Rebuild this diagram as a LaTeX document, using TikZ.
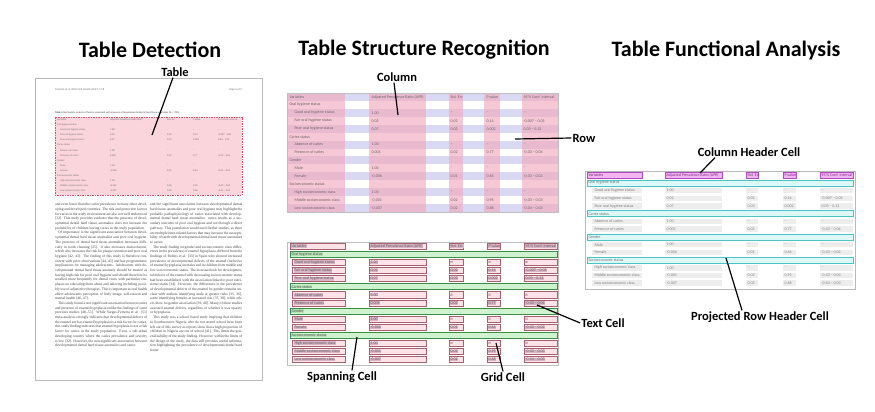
\documentclass[tikz,border=0pt]{standalone}
\usepackage{fontspec}
\setmainfont{Carlito}
\newfontfamily\bodyserif{Liberation Serif}
\definecolor{lav}{HTML}{D9D9F3}
\definecolor{colpink}{HTML}{F2A9BE}
\definecolor{gridfill}{HTML}{FCE3E7}
\definecolor{gridline}{HTML}{A8606E}
\definecolor{textcell}{HTML}{D9B5C8}
\definecolor{spanfill}{HTML}{CFF2CF}
\definecolor{spanline}{HTML}{3C8C4C}
\definecolor{spantext}{HTML}{B5E2B5}
\definecolor{hdrfill}{HTML}{F3B6F3}
\definecolor{hdrline}{HTML}{B048C0}
\definecolor{prhfill}{HTML}{DDF8F8}
\definecolor{prhline}{HTML}{4CC4C4}
\definecolor{datagray}{HTML}{EDEDED}
\definecolor{pagepink}{HTML}{FAD5DC}
\definecolor{pagedash}{HTML}{E0506A}
\def\datarows{2/Good oral hygiene status/1.00/–/–/–,3/Fair oral hygiene status/0.02/0.02/0.14/-0.007 – 0.05,4/Poor oral hygiene status/0.07/0.03/0.002/0.03 – 0.12,6/Absence of caries/1.00/–/–/–,7/Presence of caries/0.005/0.02/0.77/-0.03 – 0.04,9/Male/1.00/–/–/–,10/Female/-0.006/0.01/0.64/-0.03 – 0.02,12/High socioeconomic class/1.00/–/–/–,13/Middle socioeconomic class/-0.001/0.02/0.95/-0.03 – 0.03,14/Low socioeconomic class/-0.007/0.02/0.68/-0.04 – 0.03}
\def\secrows{1/Oral hygiene status,5/Caries status,8/Gender,11/Socioeconomic status}
\begin{document}
\begin{tikzpicture}[x=1pt,y=-1pt,
  title/.style={font=\bfseries\fontsize{22}{24}\selectfont, inner sep=0pt},
  lbl/.style={font=\bfseries\fontsize{12.5}{14}\selectfont, inner sep=1pt},
  ptr/.style={line width=1.2pt, black},
  mini/.style={font=\fontsize{2.5}{3}\selectfont, anchor=west, inner sep=0pt, text=black!55},
  tt/.style={font=\fontsize{4}{4.5}\selectfont, anchor=west, inner sep=0.3pt, text=black!60},
  tcell/.style={tt, fill=textcell, text=black!65},
  gridbox/.style={draw=gridline, fill=gridfill, line width=0.45pt},
  spanbox/.style={draw=spanline, fill=spanfill, line width=0.7pt},
  hdrbox/.style={draw=hdrline, fill=hdrfill, line width=0.5pt},
  prhbox/.style={draw=prhline, fill=prhfill, line width=0.8pt},
  graybox/.style={fill=datagray},
  body/.style={anchor=north west, inner sep=0pt, text width=92pt, align=justify,
    font=\bodyserif\fontsize{3.7}{4.7}\selectfont, text=black!75}
]
\useasboundingbox (0,0) rectangle (875,412);
\fill[white] (0,0) rectangle (875,412);

% ---------------- titles
\node[title] (t1) at (150,50) {Table Detection};
\node[title] (t2) at (424,50) {Table Structure Recognition};
\node[title] (t3) at (726,50) {Table Functional Analysis};

% ================= Panel A: page
\draw[gray!55, line width=0.9pt, fill=white] (35,78) rectangle (262,380);
\node[mini, font=\fontsize{2.8}{3}\selectfont] (hd1) at (55,90) {Popoola et al. BMC Oral Health (2017) 17:8};
\node[mini, anchor=east, font=\fontsize{2.8}{3}\selectfont] (hd2) at (242,90) {Page 6 of 9};
\node[mini, text=black!75] (cap) at (55,113) {\textbf{Table 4} Multivariate analysis of factors associated with presence of developmental dental hard tissue anomalies (N = 1703)};
\fill[pagepink] (55,117) rectangle (242,195);
\draw[pagedash, dash pattern=on 1.5pt off 1pt, line width=0.7pt] (55,117) rectangle (242,195);
\node[mini] (A-0-v) at (57,119.6) {Variables};
\node[mini] (A-0-a) at (110,119.6) {Adjusted Prevalence Ratio (APR)};
\node[mini] (A-0-b) at (167,119.6) {Std. Err.};
\node[mini] (A-0-c) at (193,119.6) {P value};
\node[mini] (A-0-d) at (218,119.6) {95 \% Conf. Interval};
\foreach \i/\v in \secrows {
  \node[mini] (A-\i-v) at (57,{119.6+\i*5.1}) {\v};
}
\foreach \i/\v/\a/\b/\c/\d in \datarows {
  \pgfmathsetmacro\yy{119.6+\i*5.1}
  \node[mini] (A-\i-v) at (60,\yy) {\v};
  \node[mini] (A-\i-a) at (110,\yy) {\a};
  \node[mini] (A-\i-b) at (167,\yy) {\b};
  \node[mini] (A-\i-c) at (193,\yy) {\c};
  \node[mini] (A-\i-d) at (218,\yy) {\d};
}
\node[body] (bodyL) at (55,203) {and even lower than the caries prevalence in many other developing and developed countries. The risk and protective factors for caries in the study environment are also not well understood [32]. This study provides evidence that the presence of developmental dental hard tissue anomalies does not increase the probability of children having caries in the study population.\par
\hspace*{3pt}Of importance is the significant association between developmental dental hard tissue anomalies and poor oral hygiene. The presence of dental hard tissue anomalies increases difficulty in tooth cleaning [25]. It also increases malocclusion, which also increases the risk for plaque retention and poor oral hygiene [42, 43]. The finding of this study is therefore consistent with prior observations [44, 45] and has programmatic implications for managing adolescents. Adolescents with developmental dental hard tissue anomaly should be treated as having high risk for poor oral hygiene and should therefore be recalled more frequently for dental visits with particular emphasis on educating them about and tailoring including possibly use of adjunctive therapies. This is important as oral health affect adolescents perception of body image, self-esteem and mental health [46, 47].\par
\hspace*{3pt}This study found a non significant association between caries and presence of enamel hypoplasia unlike the findings of some previous studies [48--51]. While Vargas-Ferreira et al. [51] meta-analysis strongly indicates that developmental defects of the enamel such as enamel hypoplasia is a risk factor for caries, this study finding indicates that enamel hypoplasia is not a risk factor for caries in the study population. Even, a sub-urban developing country where the caries prevalence and severity is low [32]. However, the non-significant association between developmental dental hard tissue anomalies and caries};
\node[body] (bodyR) at (150,203) {and the significant association between developmental dental hard tissue anomalies and poor oral hygiene may highlight the probable pathophysiology of caries associated with developmental dental hard tissue anomalies: caries results as a secondary outcome of poor oral hygiene and not through a direct pathway. This postulation would need further studies, as there are multiple inter-related factors that may increase the susceptibility of teeth with developmental dental hard tissue anomalies to caries.\par
\hspace*{3pt}The study finding on gender and socioeconomic class differences in the prevalence of enamel hypoplasia, differed from the findings of Robles et al. [33] in Spain who showed increased prevalence of developmental defects of the enamel (inclusive of enamel hypoplasia) in males and in children from middle and low socioeconomic status. The increased risk for developmental defects of the enamel with decreasing socioeconomic status had been established, with the association linked to poor nutritional status [34]. However, the differences in the prevalence of developmental defects of the enamel by gender remains unclear with authors identifying male at greater risks [35, 36], some identifying females at increased risk [37, 38], while others show no gender association [39, 40]. Many of these studies assessed enamel defects, regardless of whether it was opacity or hypoplasia.\par
\hspace*{3pt}This study was a school based study implying that children in Southwestern Nigeria who do not attend school have been left out of this survey as reports show that a high proportion of children in Nigeria are out of school [41]. This limits the generalizability of the study finding. However, within the limits of the design of the study, the data still provides useful information highlighting the prevalence of developmental dental hard tissue};

% ================= Panel B: columns and rows
\fill[white] (287,93) rectangle (558,212);
\foreach \i in {0,2,...,14} \fill[lav] (287,{93+\i*7.93}) rectangle (558,{93+(\i+1)*7.93});
\foreach \l/\r in {287/345,369/426,449/463,484/500,522/558} \fill[colpink,opacity=.65] (\l,93) rectangle (\r,212);
\draw[gray!50, line width=0.7pt] (287,93) rectangle (558,212);
\node[tt] (B-0-v) at (289,97) {Variables};
\node[tt] (B-0-a) at (371,97) {Adjusted Prevalence Ratio (APR)};
\node[tt] (B-0-b) at (450,97) {Std. Err.};
\node[tt] (B-0-c) at (486,97) {P value};
\node[tt] (B-0-d) at (523,97) {95 \% Conf. Interval};
\foreach \i/\v in \secrows {
  \node[tt] (B-\i-v) at (289,{97+\i*7.93}) {\v};
}
\foreach \i/\v/\a/\b/\c/\d in \datarows {
  \pgfmathsetmacro\yy{97+\i*7.93}
  \node[tt] (B-\i-v) at (294,\yy) {\v};
  \node[tt] (B-\i-a) at (371,\yy) {\a};
  \node[tt] (B-\i-b) at (450,\yy) {\b};
  \node[tt] (B-\i-c) at (486,\yy) {\c};
  \node[tt] (B-\i-d) at (523,\yy) {\d};
}

% ================= Panel C: cells
\draw[gray!50, line width=0.7pt, fill=white] (287,242) rectangle (558,365);
\foreach \l/\r in {290/345,369/426,449/463,487/500,524/557}
  \draw[gridbox] (\l,243.1) rectangle (\r,249.3);
\node[tcell] (C-0-v) at (291,246.2) {Variables};
\node[tcell] (C-0-a) at (370,246.2) {Adjusted Prevalence Ratio (APR)};
\node[tcell] (C-0-b) at (450,246.2) {Std. Err.};
\node[tcell] (C-0-c) at (488,246.2) {P value};
\node[tcell] (C-0-d) at (525,246.2) {95 \% Conf. Interval};
\foreach \i/\v in \secrows {
  \pgfmathsetmacro\yy{246.2+\i*8.1}
  \draw[spanbox] (290,\yy-3.1) rectangle (557,\yy+3.1);
  \node[tt, fill=spantext, text=black!65] (C-\i-v) at (291,\yy) {\v};
}
\foreach \i/\v/\a/\b/\c/\d in \datarows {
  \pgfmathsetmacro\yy{246.2+\i*8.1}
  \draw[gridbox] (292,\yy-3.1) rectangle (345,\yy+3.1);
  \foreach \l/\r in {369/426,449/463,487/500,524/557}
    \draw[gridbox] (\l,\yy-3.1) rectangle (\r,\yy+3.1);
  \node[tcell] (C-\i-v) at (294,\yy) {\v};
  \node[tcell] (C-\i-a) at (370,\yy) {\a};
  \node[tcell] (C-\i-b) at (450,\yy) {\b};
  \node[tcell] (C-\i-c) at (488,\yy) {\c};
  \node[tcell] (C-\i-d) at (525,\yy) {\d};
}

% ================= Panel D: functional analysis
\draw[gray!55, line width=0.8pt, fill=white] (585,171) rectangle (855,289);
\foreach \l/\r in {587/642,665/722,746/758,783/796,820/853}
  \draw[hdrbox] (\l,172.2) rectangle (\r,178.2);
\node[tt, text=hdrline!70!black] (D-0-v) at (588,175.2) {Variables};
\node[tt, text=hdrline!70!black] (D-0-a) at (666,175.2) {Adjusted Prevalence Ratio (APR)};
\node[tt, text=hdrline!70!black] (D-0-b) at (747,175.2) {Std. Err.};
\node[tt, text=hdrline!70!black] (D-0-c) at (784,175.2) {P value};
\node[tt, text=hdrline!70!black] (D-0-d) at (821,175.2) {95 \% Conf. Interval};
\foreach \i/\v in \secrows {
  \pgfmathsetmacro\yy{175.2+\i*7.72}
  \draw[prhbox] (587,\yy-3) rectangle (853,\yy+3);
  \node[tt, text=black!55] (D-\i-v) at (588,\yy) {\v};
}
\foreach \i/\v/\a/\b/\c/\d in \datarows {
  \pgfmathsetmacro\yy{175.2+\i*7.72}
  \foreach \l/\r in {592/642,665/722,746/758,783/796,820/853}
    \fill[graybox] (\l,\yy-2.8) rectangle (\r,\yy+2.8);
  \node[tt, text=black!50] (D-\i-v) at (594,\yy) {\v};
  \node[tt, text=black!50] (D-\i-a) at (666,\yy) {\a};
  \node[tt, text=black!50] (D-\i-b) at (747,\yy) {\b};
  \node[tt, text=black!50] (D-\i-c) at (784,\yy) {\c};
  \node[tt, text=black!50] (D-\i-d) at (821,\yy) {\d};
}

% ================= labels and pointers
\node[lbl] (tabL) at (175,72) {Table};
\coordinate (tabT) at (152,135);
\draw[ptr] ([xshift=-2pt]tabL.south) -- (tabT);

\node[lbl] (colL) at (397,77) {Column};
\coordinate (colT) at (398,115);
\draw[ptr] ([xshift=-3pt]colL.south) -- (colT);

\node[lbl] (rowL) at (584,138) {Row};
\coordinate (rowT) at (515,139);
\draw[ptr] (rowL.west) -- (rowT);

\node[lbl] (chL) at (749,152) {Column Header Cell};
\coordinate (chT) at (700,173);
\draw[ptr] ([xshift=-34pt]chL.south) -- (chT);

\node[lbl] (tcL) at (603,323) {Text Cell};
\coordinate (tcT) at (537,305);
\draw[ptr] (tcL.west) -- (tcT);

\node[lbl] (spL) at (342,377) {Spanning Cell};
\coordinate (spT) at (357,337);
\draw[ptr] ([xshift=10pt]spL.north) -- (spT);

\node[lbl] (gcL) at (503,377) {Grid Cell};
\coordinate (gcT) at (496,343);
\draw[ptr] (gcL.north) -- (gcT);

\node[lbl] (prL) at (760,317) {Projected Row Header Cell};
\coordinate (prT) at (726,258);
\draw[ptr] ([xshift=-18pt]prL.north) -- (prT);
\end{tikzpicture}
\end{document}
